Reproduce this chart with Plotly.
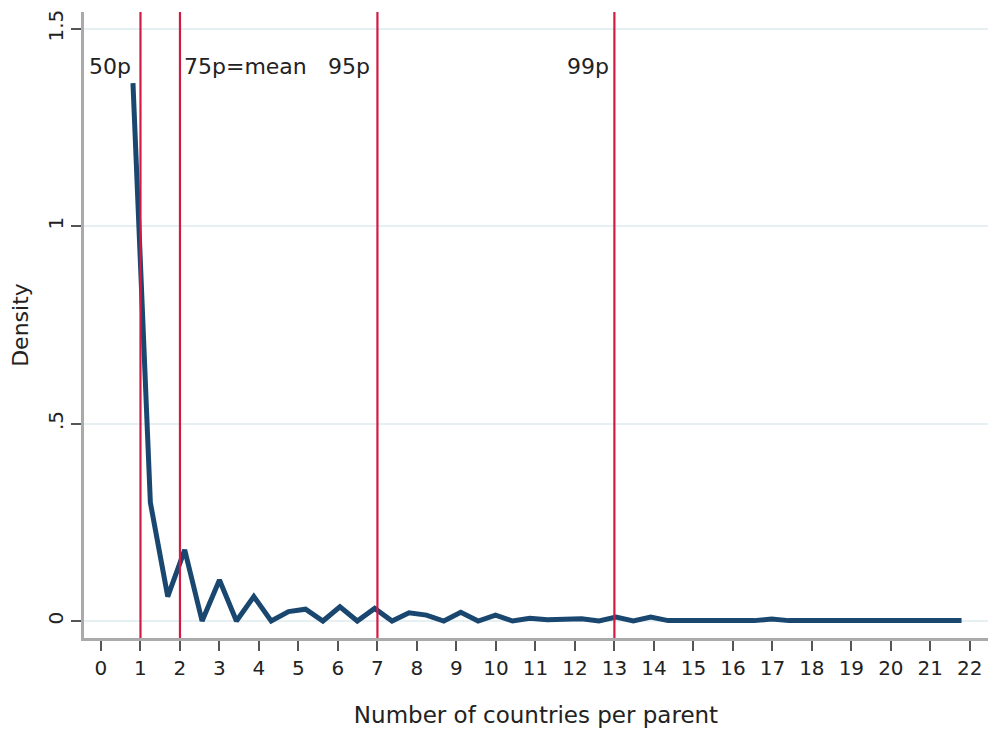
import plotly.graph_objects as go

# Frequency-polygon points (number of countries per parent vs density)
x_vals = [0.81, 1.25, 1.69, 2.12, 2.56, 3.00, 3.43, 3.87, 4.31, 4.75,
          5.18, 5.62, 6.05, 6.49, 6.93, 7.37, 7.80, 8.24, 8.68, 9.11,
          9.55, 9.99, 10.42, 10.86, 11.30, 11.73, 12.17, 12.61, 13.04, 13.48,
          13.92, 14.36, 14.79, 15.23, 15.67, 16.10, 16.54, 16.98, 17.42, 17.85,
          18.29, 18.73, 19.16, 19.60, 20.04, 20.48, 20.91, 21.35, 21.79]
density = [1.362, 0.300, 0.062, 0.180, 0.000, 0.104, 0.000, 0.062, 0.000, 0.024,
           0.030, 0.000, 0.036, 0.000, 0.032, 0.000, 0.021, 0.015, 0.000, 0.022,
           0.000, 0.015, 0.000, 0.007, 0.003, 0.003, 0.006, 0.000, 0.010, 0.000,
           0.010, 0.001, 0.002, 0.003, 0.001, 0.001, 0.001, 0.005, 0.001, 0.001,
           0.001, 0.001, 0.003, 0.001, 0.001, 0.001, 0.001, 0.001, 0.001]

# Percentile markers
pct_values = [1, 2, 7, 13]
pct_labels = ["50p", "75p=mean", "95p", "99p"]

x_ticks = list(range(0, 23))
y_ticks = [0, 0.5, 1, 1.5]
y_ticklabels = ["0", ".5", "1", "1.5"]

FONT = "DejaVu Sans, Liberation Sans, Arial, sans-serif"
RED = "#d21a43"
NAVY = "#1a476f"

fig = go.Figure()
fig.add_trace(go.Scatter(x=x_vals, y=density, mode="lines",
                         line=dict(color=NAVY, width=5),
                         showlegend=False, hoverinfo="skip"))

# vertical lines and labels
label_anchor = ["right", "left", "right", "right"]
label_shift = [-7, 2, -5, -3]
for v, lab, anc, sh in zip(pct_values, pct_labels, label_anchor, label_shift):
    fig.add_shape(type="line", xref="x", yref="paper", x0=v, x1=v, y0=0, y1=1,
                  line=dict(color=RED, width=2.2), layer="above")
    fig.add_annotation(x=v, y=1.405, xref="x", yref="y", text=lab,
                       showarrow=False, xanchor=anc, yanchor="middle", xshift=sh,
                       font=dict(family=FONT, size=22, color="#222222"))

fig.update_layout(
    width=990, height=734,
    margin=dict(l=84, r=2, t=12, b=96),
    paper_bgcolor="white", plot_bgcolor="white",
    font=dict(family=FONT, size=22, color="#222222"),
    xaxis=dict(range=[-0.43, 22.46], tickmode="array", tickvals=x_ticks,
               ticks="outside", ticklen=10, tickwidth=1.5, tickcolor="#555555",
               showgrid=False, zeroline=False,
               showline=True, linecolor="#aaaaaa", linewidth=3,
               tickfont=dict(size=20),
               title=dict(text="Number of countries per parent", standoff=28,
                          font=dict(size=23))),
    yaxis=dict(range=[-0.043, 1.542], tickmode="array", tickvals=y_ticks,
               ticktext=y_ticklabels, tickangle=-90,
               ticks="outside", ticklen=10, tickwidth=1.5, tickcolor="#555555",
               showgrid=True, gridcolor="#e6eff1", gridwidth=1.5, zeroline=False,
               showline=True, linecolor="#aaaaaa", linewidth=3,
               tickfont=dict(size=20),
               title=dict(text="Density", standoff=10, font=dict(size=22))),
)

fig.write_html("out.html")
